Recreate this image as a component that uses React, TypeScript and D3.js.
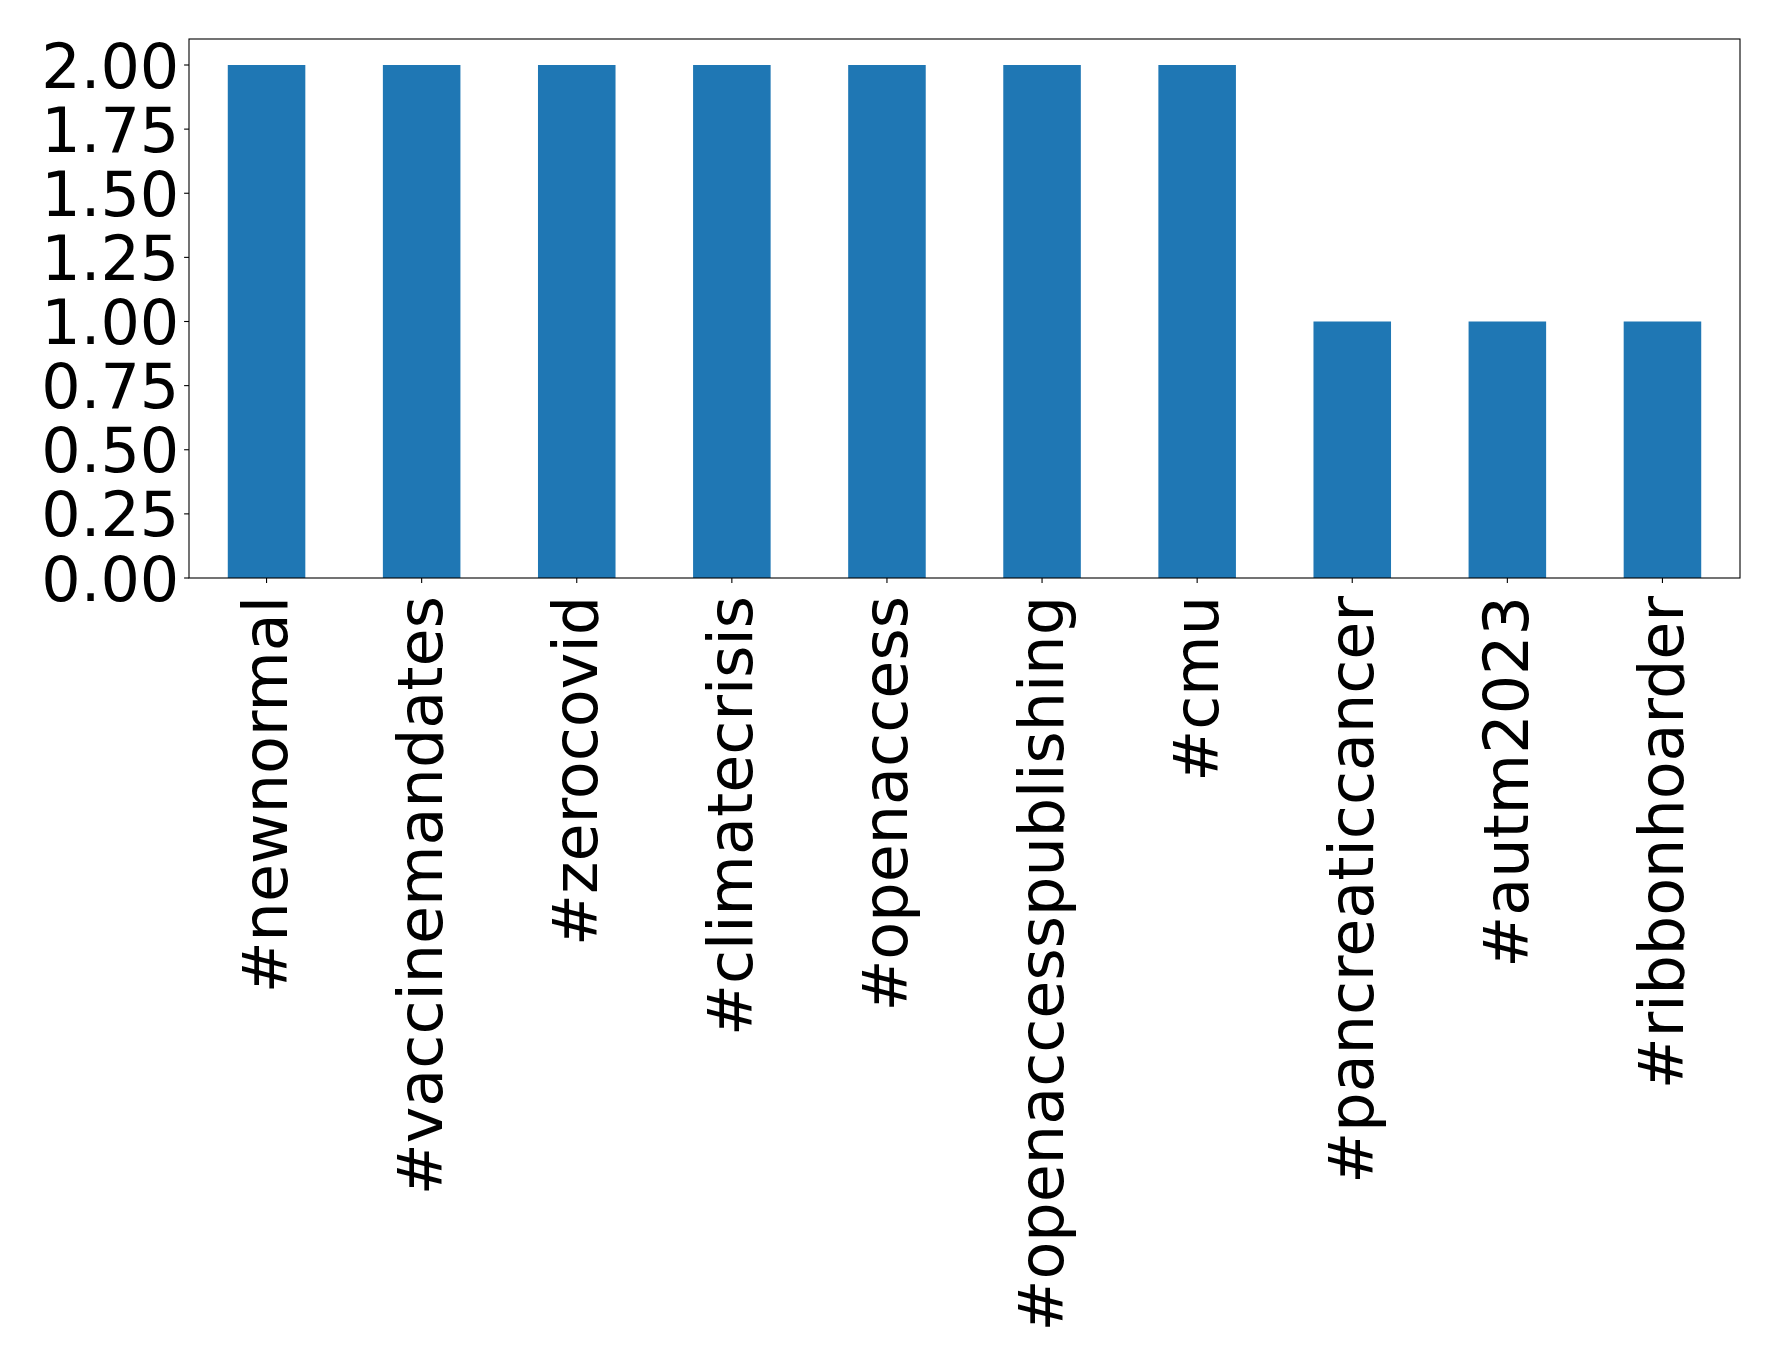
import React from "react";
import * as d3 from "d3";

const categories = ["#newnormal", "#vaccinemandates", "#zerocovid", "#climatecrisis", "#openaccess", "#openaccesspublishing", "#cmu", "#pancreaticcancer", "#autm2023", "#ribbonhoarder"];
const values = [2, 2, 2, 2, 2, 2, 2, 1, 1, 1];
const yTicks = [0, 0.25, 0.5, 0.75, 1, 1.25, 1.5, 1.75, 2];

const W = 1778, H = 1369;
const left = 189, right = 1740, top = 39, bottom = 578;
const FONT = "DejaVu Sans, sans-serif";
const FS = 62;

export default function App() {
  const x = d3.scaleLinear().domain([-0.5, categories.length - 0.5]).range([left, right]);
  const yS = d3.scaleLinear().domain([0, 2]).range([bottom, 65]);
  const bw = (x(1) - x(0)) * 0.5;
  return (
    <svg width={W} height={H} style={{ position: "absolute", left: 0, top: 0, background: "#fff" }}>
      {categories.map((c, i) => (
        <rect key={c} x={x(i) - bw / 2} y={yS(values[i])} width={bw} height={bottom - yS(values[i])} fill="#1f77b4" />
      ))}
      <rect x={left} y={top} width={right - left} height={bottom - top} fill="none" stroke="#000" strokeWidth={1.1} />
      {yTicks.map((t) => (
        <g key={t}>
          <line x1={left - 4.9} x2={left} y1={yS(t)} y2={yS(t)} stroke="#000" strokeWidth={1.1} />
          <text x={left - 9.7} y={yS(t) + 0.3645 * FS} textAnchor="end" fontFamily={FONT} fontSize={FS} fill="#000">
            {d3.format(".2f")(t)}
          </text>
        </g>
      ))}
      {categories.map((c, i) => (
        <g key={c}>
          <line x1={x(i)} x2={x(i)} y1={bottom} y2={bottom + 4.9} stroke="#000" strokeWidth={1.1} />
          <text
            transform={`translate(${x(i) + 20.5},${bottom + 18}) rotate(-90)`}
            textAnchor="end"
            fontFamily={FONT}
            fontSize={FS}
            fill="#000"
          >
            {c}
          </text>
        </g>
      ))}
    </svg>
  );
}
